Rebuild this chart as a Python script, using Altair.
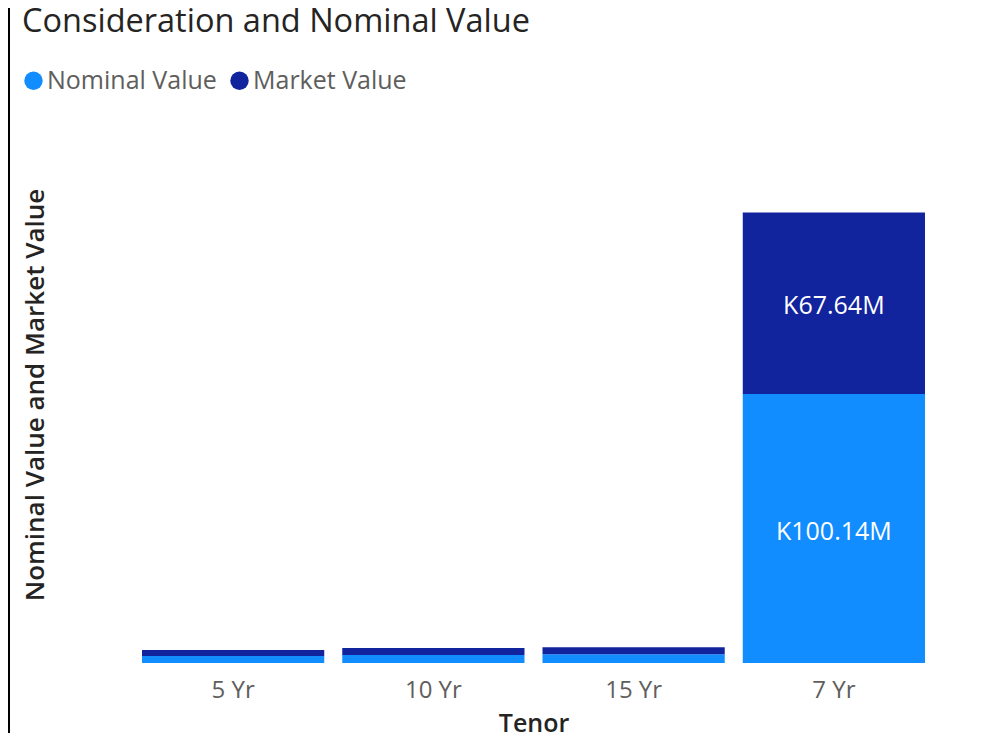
import altair as alt
import pandas as pd

title_text = "Consideration and Nominal Value"
tenors = ["5 Yr", "10 Yr", "15 Yr", "7 Yr"]
nominal = [2.6, 3.0, 3.3, 100.14]
market = [2.2, 2.6, 2.6, 67.64]
series = ["Nominal Value", "Market Value"]
colors = ["#118DFF", "#12239E"]

rows = []
for i, t in enumerate(tenors):
    rows.append({"tenor": t, "series": series[0], "value": nominal[i], "ord": 0})
    rows.append({"tenor": t, "series": series[1], "value": market[i], "ord": 1})
df = pd.DataFrame(rows)

FONT = "Open Sans"
W, H = 801, 537
PL, PT, PR, PB = 125, 118, 50, 70

base = alt.Chart(df)

bars = base.mark_bar().encode(
    x=alt.X("tenor:N", sort=tenors, scale=alt.Scale(paddingInner=0.09, paddingOuter=0.045),
            axis=alt.Axis(title="Tenor", labelAngle=0, ticks=False, domain=False,
                          labelFontSize=24, labelColor="#605E5C", labelPadding=15,
                          titleFontSize=25, titleFontWeight=600, titleColor="#252423",
                          titlePadding=9)),
    y=alt.Y("value:Q", stack="zero", scale=alt.Scale(domain=[0, 200], nice=False),
            axis=alt.Axis(title="Nominal Value and Market Value", labels=False, ticks=False,
                          domain=False, grid=False, titleFontSize=26, titleFontWeight=600,
                          titleColor="#252423", titlePadding=85)),
    color=alt.Color("series:N", sort=series, scale=alt.Scale(domain=series, range=colors),
                    legend=alt.Legend(title=None, orient="none", direction="horizontal",
                                      legendX=-112, legendY=-58, symbolType="circle",
                                      symbolSize=340, symbolStrokeWidth=0, labelFontSize=25,
                                      labelLimit=0, labelColor="#605E5C", labelOffset=1,
                                      columnPadding=10)),
    order=alt.Order("ord:Q"),
)

labels = base.transform_stack(
    stack="value", groupby=["tenor"], as_=["y0", "y1"], sort=[alt.SortField("ord")]
).transform_calculate(
    mid="(datum.y0 + datum.y1) / 2",
    lab="'K' + format(datum.value, '.2f') + 'M'"
).transform_filter("datum.value > 20").mark_text(
    color="white", fontSize=25, font=FONT, baseline="middle", dy=3
).encode(
    x=alt.X("tenor:N", sort=tenors),
    y=alt.Y("mid:Q"),
    text="lab:N",
)

border = base.mark_rule(color="#000000", strokeWidth=2).encode(
    x=alt.value(-124), y=alt.value(-PT - 8), y2=alt.value(H + PB)
)

title = alt.Chart(pd.DataFrame({"t": [title_text]})).mark_text(
    align="left", baseline="alphabetic", fontSize=32.5, color="#252423", font=FONT
).encode(x=alt.value(-111), y=alt.value(-94), text="t:N")

chart = alt.layer(bars, labels, border, title).properties(
    width=W, height=H,
    autosize=alt.AutoSizeParams(type="none"),
    padding={"left": PL, "top": PT, "right": PR, "bottom": PB},
).configure(font=FONT).configure_view(stroke=None)

chart.save("out.html", embed_options={"renderer": "svg", "actions": False})
